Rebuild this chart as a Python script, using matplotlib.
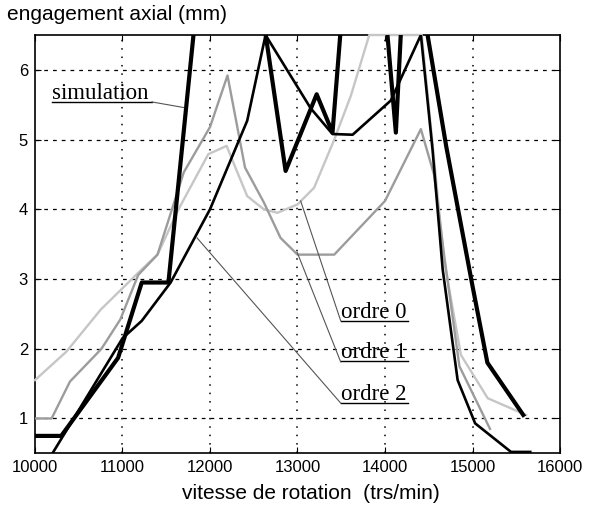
import matplotlib
matplotlib.use("Agg")
import matplotlib.pyplot as plt

# données lues sur la figure
# simulation (trait noir épais)
sim_x = [10000, 10300, 10950, 11220, 11525, 11900, 12520, 12864, 13219, 13400,
         13520, 13994, 14124, 14200, 14420, 14700, 15000, 15170, 15580]
sim_y = [0.75, 0.75, 1.87, 2.95, 2.95, 7.6, 7.5, 4.55, 5.65, 5.1,
         7.0, 7.0, 5.1, 7.0, 7.0, 4.9, 2.9, 1.8, 1.05]

# ordre 0 (gris clair)
o0_x = [10000, 10360, 10750, 11180, 11400, 11640, 11980, 12190, 12290, 12425,
        12615, 12770, 13000, 13190, 13420, 13610, 13820, 14420, 14674, 14868,
        15174, 15613]
o0_y = [1.55, 1.96, 2.56, 3.09, 3.35, 4.0, 4.79, 4.91, 4.6, 4.19,
        4.0, 3.95, 4.07, 4.31, 5.0, 5.63, 6.5, 6.5, 3.28, 1.91,
        1.29, 1.05]

# ordre 1 (gris moyen)
o1_x = [10000, 10190, 10400, 10760, 10975, 11180, 11400, 11700, 12000, 12200,
        12400, 12615, 12806, 13000, 13420, 14000, 14410, 14560, 14680, 14850,
        15200]
o1_y = [1.0, 1.0, 1.53, 2.0, 2.42, 3.06, 3.35, 4.53, 5.18, 5.92,
        4.6, 4.1, 3.59, 3.35, 3.35, 4.12, 5.15, 4.5, 3.3, 1.75,
        0.85]

# ordre 2 (noir moyen)
o2_x = [10200, 11000, 11220, 11550, 12000, 12425, 12635, 13150, 13400, 13630,
        14066, 14410, 14543, 14659, 14830, 15030, 15440, 15660]
o2_y = [0.5, 2.15, 2.4, 2.95, 4.0, 5.27, 6.5, 5.45, 5.08, 5.07,
        5.56, 6.5, 4.86, 3.14, 1.55, 0.93, 0.52, 0.52]

x_ticks = [10000, 11000, 12000, 13000, 14000, 15000, 16000]
y_ticks = [1, 2, 3, 4, 5, 6]

sans = ["Liberation Sans", "DejaVu Sans"]
serif = ["Liberation Serif", "DejaVu Serif"]

fig = plt.figure(figsize=(5.95, 5.12), dpi=100)
ax = fig.add_axes([0.0588, 0.1146, 0.8824, 0.817])

# grille
for v in x_ticks[1:-1]:
    ax.axvline(v, color="black", lw=1.1, ls=(0, (1, 4.5)), zorder=1)
for v in y_ticks:
    ax.axhline(v, color="black", lw=0.9, ls=(0, (3, 4)), zorder=1)

# courbes
ax.plot(o0_x, o0_y, color="#c6c6c6", lw=1.7, zorder=3, clip_on=False)
ax.plot(o1_x, o1_y, color="#9c9c9c", lw=1.7, zorder=3)
ax.plot(o2_x, o2_y, color="black", lw=1.9, zorder=4)
ax.plot(sim_x, sim_y, color="black", lw=3.0, zorder=5)

ax.set_xlim(10000, 16000)
ax.set_ylim(0.5, 6.5)
ax.set_xticks(x_ticks)
ax.set_yticks(y_ticks)
ax.tick_params(direction="in", length=4, top=True, right=True, labelsize=12, pad=5)
for lab in ax.get_xticklabels() + ax.get_yticklabels():
    lab.set_family(sans)
for s in ax.spines.values():
    s.set_linewidth(1.2)

# étiquettes soulignées avec traits de rappel
labels = [
    ("simulation", 10195, 5.58, 11337, (11337, 5.54), (11699, 5.46)),
    ("ordre 0", 13494, 2.445, 14258, (13494, 2.40), (13036, 4.12)),
    ("ordre 1", 13494, 1.87, 14258, (13494, 1.81), (12997, 3.38)),
    ("ordre 2", 13494, 1.27, 14258, (13494, 1.22), (11852, 3.59)),
]
for txt, tx, ty, ux, p0, p1 in labels:
    ax.text(tx, ty, txt, family=serif, fontsize=16.5, va="baseline", ha="left", zorder=6)
    ax.plot([tx, ux], [ty - 0.045, ty - 0.045], color="black", lw=1.0, zorder=6)
    ax.plot([p0[0], p1[0]], [p0[1], p1[1]], color="#555555", lw=0.8, zorder=6)

fig.text(0.012, 1 - 20 / 512, "engagement axial (mm)", family=sans, fontsize=15,
         va="baseline", ha="left")
fig.text(311 / 595, 1 - 499 / 512, "vitesse de rotation  (trs/min)", family=sans,
         fontsize=15, va="baseline", ha="center")

fig.savefig("out.png", dpi=100)
